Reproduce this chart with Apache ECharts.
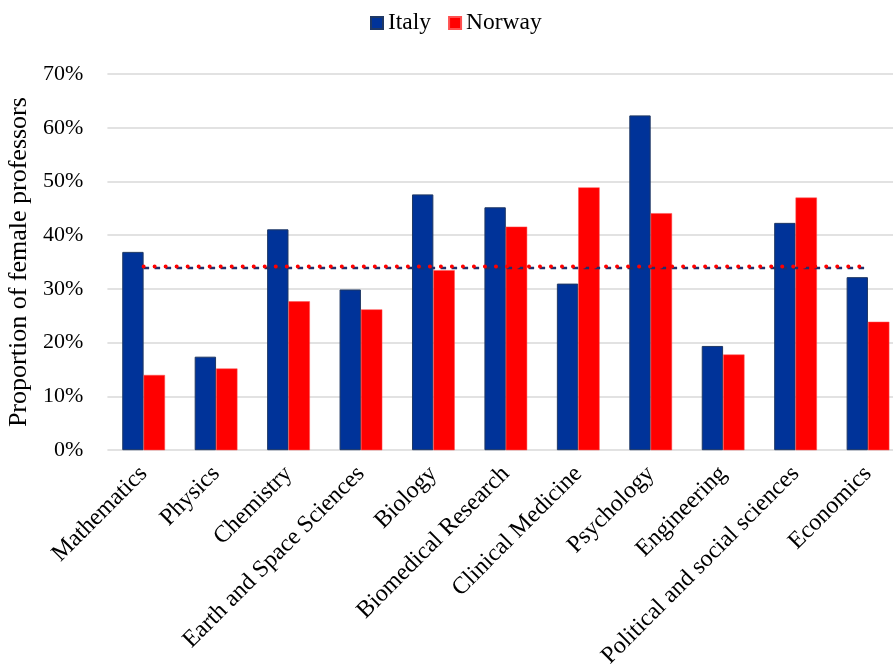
<!DOCTYPE html>
<html>
<head>
<meta charset="utf-8">
<script src="https://cdn.jsdelivr.net/npm/echarts@6/dist/echarts.min.js"></script>
<style>
html,body{margin:0;padding:0;background:#fff;}
#chart{width:893px;height:665px;}
</style>
</head>
<body>
<div id="chart"></div>
<script>
const categories = ['Mathematics','Physics','Chemistry','Earth and Space Sciences','Biology','Biomedical Research','Clinical Medicine','Psychology','Engineering','Political and social sciences','Economics'];
const italy  = [36.9, 17.4, 41.1, 29.9, 47.6, 45.2, 31.0, 62.3, 19.4, 42.3, 32.2];
const norway = [14.0, 15.2, 27.7, 26.2, 33.5, 41.6, 48.9, 44.1, 17.8, 47.0, 23.9];
const italyAvg = 33.9;
const norwayAvg = 34.2;
const yTicks = [0, 10, 20, 30, 40, 50, 60, 70];

const FONT = '"Liberation Serif", "Times New Roman", serif';
const chart = echarts.init(document.getElementById('chart'), null, {renderer: 'canvas'});
chart.setOption({
  animation: false,
  backgroundColor: '#fff',
  textStyle: {fontFamily: FONT, color: '#000'},
  legend: {
    top: 6,
    left: 365,
    data: ['Italy', 'Norway'],
    itemWidth: 12,
    itemHeight: 12,
    itemGap: 17,
    textStyle: {fontFamily: FONT, fontSize: 23.5, color: '#000'},
    icon: 'rect'
  },
  grid: {
    left: 107.4,
    top: 74,
    width: 796.8,
    height: 376.2,
    containLabel: false,
    outerBoundsMode: 'none'
  },
  xAxis: {
    type: 'category',
    data: categories,
    axisLine: {show: false},
    axisTick: {show: false},
    axisLabel: {
      rotate: 45,
      interval: 0,
      margin: 20,
      fontFamily: FONT,
      fontSize: 24,
      color: '#000'
    }
  },
  yAxis: {
    type: 'value',
    min: yTicks[0],
    max: yTicks[yTicks.length - 1],
    interval: 10,
    name: 'Proportion of female professors',
    nameLocation: 'middle',
    nameGap: 72,
    nameTextStyle: {fontFamily: FONT, fontSize: 26, color: '#000'},
    axisLine: {show: false},
    axisTick: {show: false},
    axisLabel: {
      margin: 24,
      fontFamily: FONT,
      fontSize: 22,
      color: '#000',
      formatter: v => v + '%'
    },
    splitLine: {lineStyle: {color: '#d9d9d9', width: 1.5}}
  },
  series: [
    {
      name: 'Italy',
      type: 'bar',
      data: italy,
      barGap: '0%',
      barCategoryGap: '41%',
      itemStyle: {color: '#003399', borderColor: '#1f3864', borderWidth: 1}
    },
    {
      name: 'Norway',
      type: 'bar',
      data: norway,
      itemStyle: {color: '#ff0000', borderColor: '#ff5050', borderWidth: 0.5}
    },
    {
      name: 'Italy average',
      type: 'line',
      data: categories.map(() => italyAvg),
      symbol: 'none',
      z: 5,
      lineStyle: {color: '#1f2f6b', width: 2.5, type: [5.5, 5.5]}
    },
    {
      name: 'Norway average',
      type: 'line',
      data: categories.map(() => norwayAvg),
      symbol: 'none',
      z: 6,
      lineStyle: {color: '#ff0000', width: 4, type: [0.01, 11], cap: 'round'}
    }
  ]
});
</script>
</body>
</html>
